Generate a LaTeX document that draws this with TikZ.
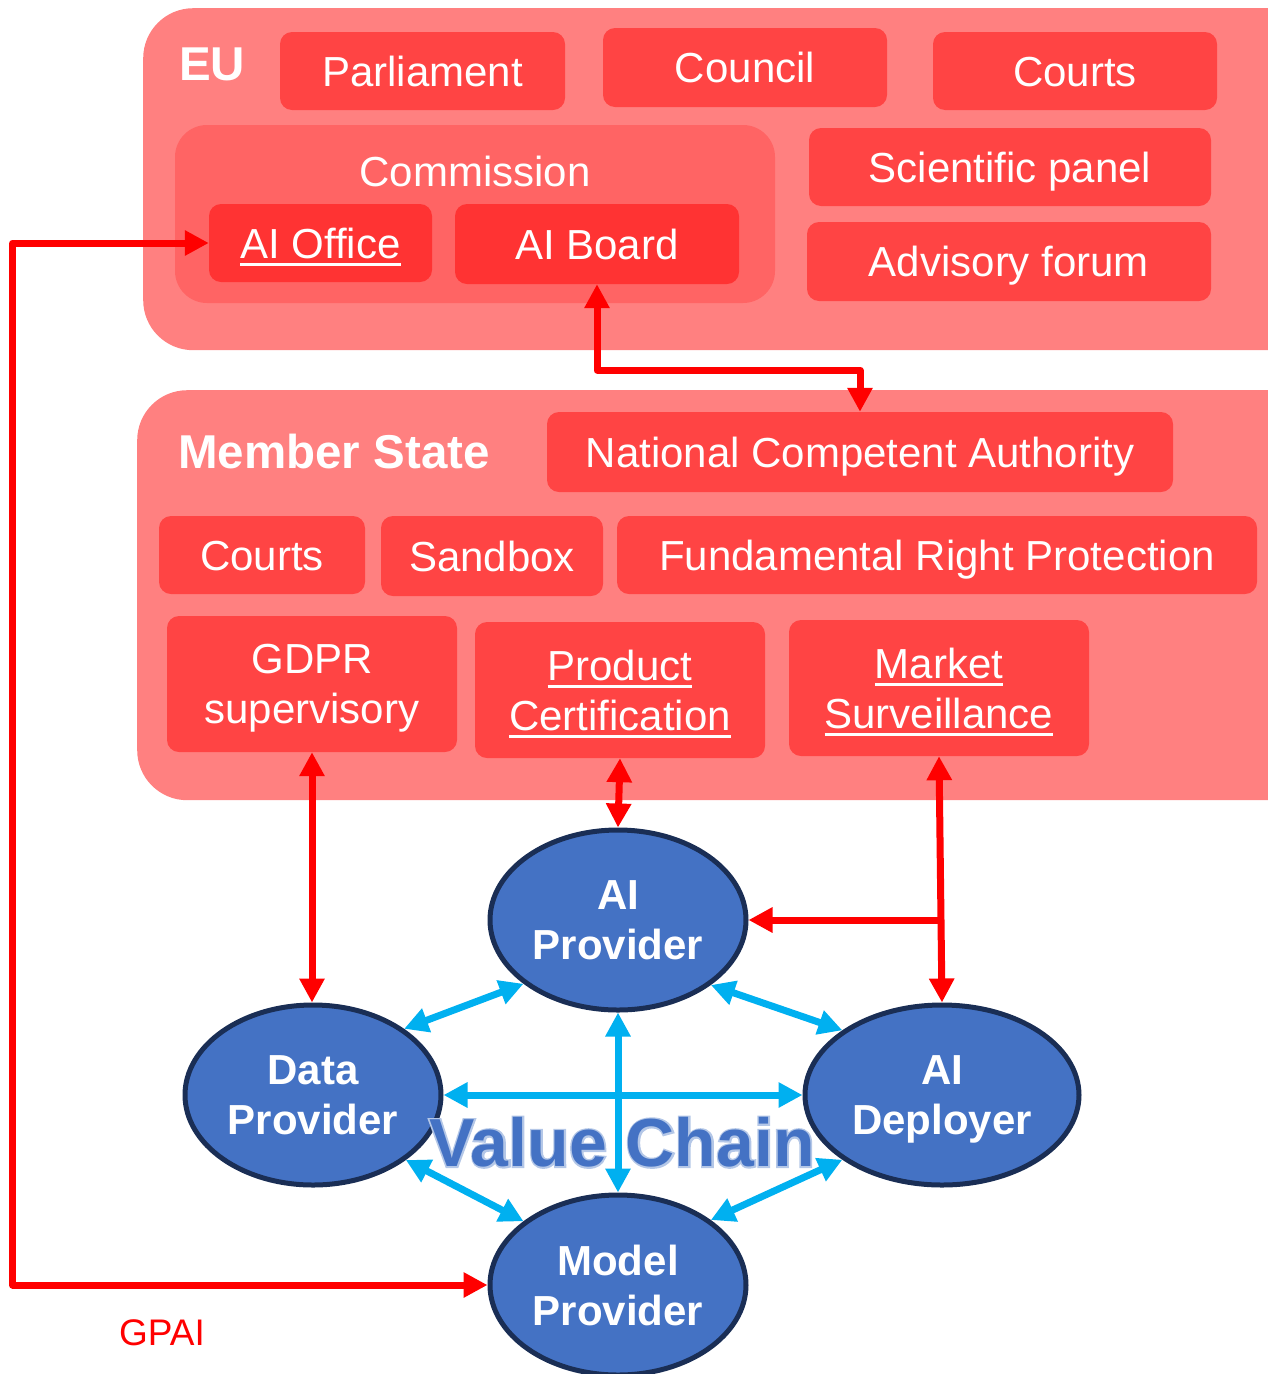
\documentclass[tikz,border=0pt]{standalone}
\usepackage{fontspec}
\setmainfont{Liberation Sans}
% emboldened face used for the halo round the caption
\newfontfamily\halofont[FakeBold=5]{Liberation Sans Bold}
\usetikzlibrary{shapes.geometric,arrows.meta,calc}

% underline drawn as a rule under the word
\newsavebox\ulbox
\newcommand\ulined[1]{\sbox\ulbox{#1}\rlap{\rule[-8pt]{\wd\ulbox}{3pt}}\usebox\ulbox}

\definecolor{outerred}{HTML}{FF8080}
\definecolor{commred}{HTML}{FF6464}
\definecolor{boxred}{HTML}{FF4444}
\definecolor{deepred}{HTML}{FF3333}
\definecolor{linkred}{HTML}{FF0000}
\definecolor{ellfill}{HTML}{4472C4}
\definecolor{elldraw}{HTML}{1A2E55}
\definecolor{linkblue}{HTML}{00B0F0}
\definecolor{glowblue}{HTML}{B4C7E7}

\begin{document}
\begin{tikzpicture}[x=1pt,y=-1pt,
  >={Triangle[length=24pt,width=24pt]},
  panel/.style={rectangle, rounded corners=50pt, fill=outerred, anchor=north west, inner sep=0pt},
  box/.style={rectangle, rounded corners=12pt, fill=boxred, text=white,
    font=\fontsize{42}{50}\selectfont, inner sep=0pt, text height=30pt, text depth=0pt},
  twobox/.style={rectangle, rounded corners=12pt, fill=boxred, text=white,
    font=\fontsize{42}{50}\selectfont, inner sep=0pt, align=center},
  title/.style={text=white, font=\bfseries\fontsize{47.5}{54}\selectfont, inner sep=0pt, text height=34pt, text depth=0pt},
  actor/.style={ellipse, fill=ellfill, draw=elldraw, line width=5pt, text=white,
    font=\bfseries\fontsize{42}{50}\selectfont, align=center, inner sep=0pt,
    minimum width=256pt, minimum height=180pt},
  redlink/.style={draw=linkred, line width=7pt, line join=round},
  bluelink/.style={draw=linkblue, line width=7pt, <->},
  chain/.style={font=\bfseries\fontsize{68}{70}\selectfont, inner sep=0pt, text height=49pt, text depth=0pt}
]
\useasboundingbox (0,0) rectangle (1268,1374);
\clip (0,0) rectangle (1268,1374);

% ---------- EU level ----------
\node[panel, minimum width=1180pt, minimum height=342pt] (eu) at (143,8) {};
\node[title] (eulabel) at (212,63) {EU};
\node[box, minimum width=285pt, minimum height=78pt] (parl) at (422.5,71) {Parliament};
\node[box, minimum width=284pt, minimum height=79pt] (council) at (745,67.5) {Council};
\node[box, minimum width=284pt, minimum height=78pt] (eucourts) at (1075,71) {Courts};
\node[rectangle, rounded corners=32pt, fill=commred, minimum width=600pt, minimum height=178pt, inner sep=0pt] (comm) at (475,214) {};
\node[text=white, font=\fontsize{42}{50}\selectfont, inner sep=0pt, text height=30pt, text depth=0pt] (commlabel) at (475,171) {Commission};
\node[box, fill=deepred, minimum width=223pt, minimum height=78pt] (aio) at (320.5,243) {\ulined{AI Office}};
\node[box, fill=deepred, minimum width=284pt, minimum height=80pt] (aib) at (597,244) {AI Board};
\node[box, minimum width=402pt, minimum height=78pt] (sci) at (1010,167) {Scientific panel};
\node[box, minimum width=404pt, minimum height=79pt] (adv) at (1009,261.5) {Advisory forum};

% ---------- Member State level ----------
\node[panel, minimum width=1180pt, minimum height=410pt] (ms) at (137,390) {};
\node[title] (mslabel) at (334,451) {Member State};
\node[box, minimum width=626pt, minimum height=80pt] (nca) at (860,452) {National Competent Authority};
\node[box, minimum width=206pt, minimum height=78pt] (mscourts) at (262,555) {Courts};
\node[box, minimum width=222pt, minimum height=80pt] (sandbox) at (492,556) {Sandbox};
\node[box, minimum width=640pt, minimum height=78pt] (frp) at (937,555) {Fundamental Right Protection};
\node[twobox, minimum width=290pt, minimum height=136pt] (gdpr) at (312,684) {GDPR\\\smash{supervisory}};
\node[twobox, minimum width=290pt, minimum height=136pt] (pc) at (620,690) {\ulined{Product}\\\smash{\ulined{Certification}}};
\node[twobox, minimum width=300pt, minimum height=136pt] (msv) at (939,688) {\ulined{Market}\\\smash{\ulined{Surveillance}}};

% ---------- value chain actors ----------
\node[actor] (ap) at (618,920) {AI\\\smash{Provider}};
\node[actor] (dp) at (313,1095) {Data\\\smash{Provider}};
\node[actor, minimum width=274pt] (ad) at (942,1095) {AI\\\smash{Deployer}};
\node[actor] (mp) at (618,1285) {Model\\\smash{Provider}};

% caption with a pale halo underneath
\node[chain, text=glowblue, font=\halofont\fontsize{68}{70}\selectfont] (halo) at (622,1142) {Value Chain};
\node[chain, text=ellfill] (vc) at (622,1142) {Value Chain};

% ---------- blue links between actors ----------
\draw[bluelink] (dp.36) -- (ap.214);
\draw[bluelink] (ap.-35) -- (ad.147);
\draw[bluelink] (dp.east) -- (ad.west);
\draw[bluelink] (ap.south) -- (mp.north);
\draw[bluelink] (dp.-35) -- (mp.146);
\draw[bluelink] (ad.213) -- (mp.35);

% ---------- red supervision links ----------
\draw[redlink, <->] (aio.west) -- ++(-196,0) |- (mp.west);
\draw[redlink, <->] (aib.south) -- ++(0,86) -| (nca.north);
\draw[redlink, <->] (gdpr.south) -- (gdpr.south |- dp.north);
\draw[redlink, <->] (pc.south) -- (ap.north);
\draw[redlink, <->] (msv.south) -- (ad.north);
\coordinate (branch) at (msv.south |- ap.east);
\draw[redlink, ->] (branch) -- (ap.east);

\node[text=linkred, font=\fontsize{37}{44}\selectfont, inner sep=0pt, text height=26.5pt, text depth=0pt] (gpai) at (162,1332) {GPAI};
\end{tikzpicture}
\end{document}
